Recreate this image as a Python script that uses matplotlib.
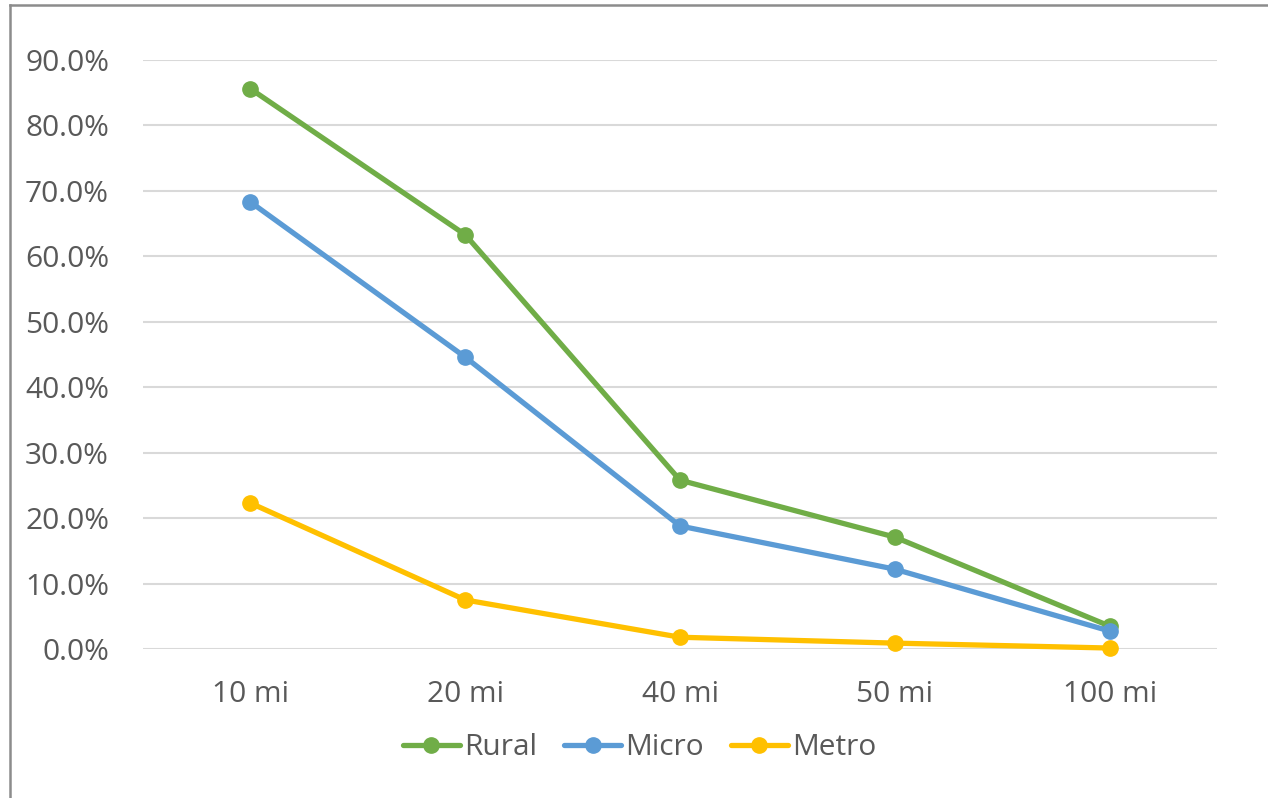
import matplotlib.pyplot as plt
from matplotlib.ticker import FuncFormatter

plt.rcParams['font.family'] = ['Open Sans', 'DejaVu Sans']

distances = ['10 mi', '20 mi', '40 mi', '50 mi', '100 mi']
rural = [85.6, 63.3, 25.8, 17.1, 3.5]
micro = [68.3, 44.6, 18.8, 12.2, 2.75]
metro = [22.3, 7.5, 1.8, 0.9, 0.15]

series = [('Rural', rural, '#70AD47'),
          ('Micro', micro, '#5B9BD5'),
          ('Metro', metro, '#FFC000')]

fig = plt.figure(figsize=(12.68, 7.98), dpi=100)
ax = fig.add_axes([0.1128, 0.1867, 0.847, 0.7381])

x = range(len(distances))
for name, vals, col in series:
    ax.plot(x, vals, color=col, lw=3.8, marker='o', ms=11,
            solid_capstyle='round', label=name, zorder=3)

ax.set_xlim(-0.5, len(distances) - 0.5)
ax.set_ylim(0, 90)
ax.set_yticks(range(0, 91, 10))
ax.yaxis.set_major_formatter(FuncFormatter(lambda v, p: f'{v:.1f}%'))
ax.set_xticks(list(x))
ax.set_xticklabels(distances)

ax.grid(axis='y', color='#D9D9D9', lw=1.5)
ax.set_axisbelow(True)
for s in ax.spines.values():
    s.set_visible(False)
ax.tick_params(length=0, labelsize=21.5, labelcolor='#595959')
ax.tick_params(axis='y', pad=24.5)
ax.tick_params(axis='x', pad=22)
for ln in ax.lines:
    ln.set_clip_on(False)

leg = ax.legend(loc='center', bbox_to_anchor=(0.4625, -0.168), ncol=3,
                frameon=False, fontsize=21.5, handlelength=1.9,
                handletextpad=0.15, columnspacing=0.9, borderaxespad=0)
for t in leg.get_texts():
    t.set_color('#595959')

# chart frame
fig.add_artist(plt.Line2D([10 / 1268, 10 / 1268], [0, 1 - 5 / 798],
                          color='#8C8C8C', lw=1.8, transform=fig.transFigure))
fig.add_artist(plt.Line2D([10 / 1268, 1], [1 - 5 / 798, 1 - 5 / 798],
                          color='#8C8C8C', lw=1.8, transform=fig.transFigure))

fig.savefig('out.png', dpi=100)
